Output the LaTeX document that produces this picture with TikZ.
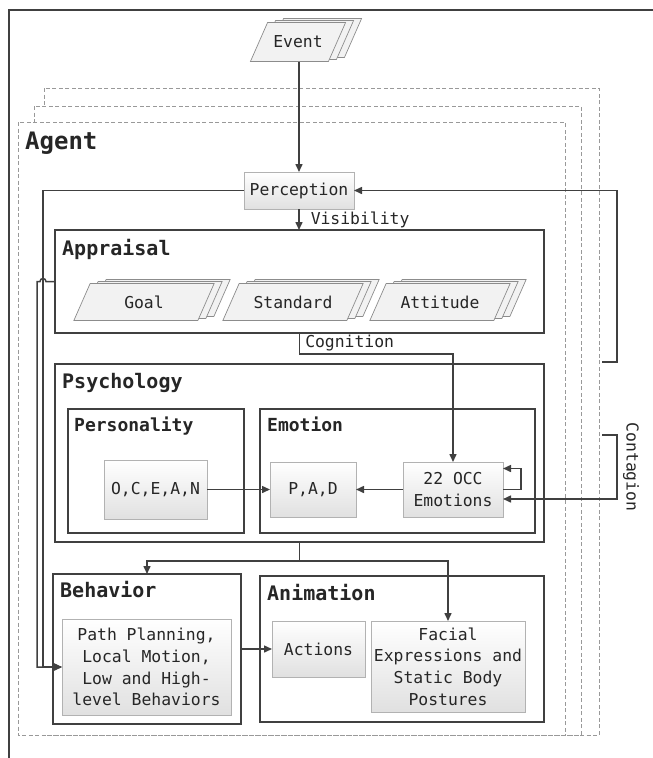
\documentclass[tikz,border=0pt]{standalone}
\usepackage{fontspec}
\setmainfont{DejaVu Sans Mono}
\usetikzlibrary{arrows.meta}

\begin{document}
\begin{tikzpicture}[x=1pt,y=-1pt,
		panel/.style={draw=black!75, line width=1.5pt, fill=white, inner sep=0pt, outer sep=0pt, anchor=north west},
		agentbox/.style={draw=black!40, dash pattern=on 4pt off 2.5pt, line width=0.8pt, fill=white},
		proc/.style={draw=black!30, line width=0.8pt, top color=white, bottom color=black!12, inner sep=0pt, outer sep=0pt, align=center, text=black!85, font=\fontsize{16.4}{21.7}\selectfont},
		slabline/.style={draw=black!45, fill=black!5, line width=0.7pt},
		slab/.style={inner sep=0pt, outer sep=0pt, text=black!85, font=\fontsize{16.4}{20}\selectfont},
		boxtitle/.style={anchor=base west, inner sep=0pt, text=black!85, font=\fontsize{20}{24}\bfseries\selectfont},
		subtitle/.style={boxtitle, font=\fontsize{18}{22}\bfseries\selectfont},
		lbl/.style={inner sep=0pt, text=black!85, font=\fontsize{16.4}{20}\selectfont},
		wire/.style={draw=black!75, line width=1.5pt},
		conn/.style={wire, -{Triangle[length=8pt,width=7pt]}}]
		\useasboundingbox (0,0) rectangle (653,758);
		\draw[agentbox] (44,88) rectangle (599,735);
		\draw[agentbox] (34,106) rectangle (581,735);
		\draw[agentbox] (18,122) rectangle (565,735);
		\draw[wire] (9,758) -- (9,10) -- (653,10);
		\node[boxtitle, font=\fontsize{24}{28}\bfseries\selectfont] (agent) at (25,149) {Agent};
		\node[panel, minimum width=489, minimum height=103] (appr) at (55,230) {};
		\node[boxtitle] at (62,255) {Appraisal};
		\foreach \cx/\cy/\w/\h in {298/42/78/39, 144/302/124/37, 293/302/124/37, 440/302/124/37}
			\foreach \d in {2,1,0}
				\filldraw[slabline, shift={(\d*8,-\d*2)}] (\cx-\w/2-\h*0.22, \cy+\h/2) -- ++(\w,0) -- ++(\h*0.44,-\h) -- ++(-\w,0) -- cycle;
		\node[slab, minimum width=78, minimum height=39] (event) at (298,42) {Event};
		\node[slab, minimum width=124, minimum height=37] (goal) at (144,302) {Goal};
		\node[slab, minimum width=124, minimum height=37] (std) at (293,302) {Standard};
		\node[slab, minimum width=124, minimum height=37] (att) at (440,302) {Attitude};
		\node[proc, minimum width=110, minimum height=37] (perc) at (299,190.5) {Perception};
		\node[panel, minimum width=489, minimum height=178] (psy) at (55,364) {};
		\node[boxtitle] at (62,388) {Psychology};
		\node[panel, minimum width=176, minimum height=124] (pers) at (68,409) {};
		\node[subtitle] at (74,431) {Personality};
		\node[panel, minimum width=275, minimum height=124] (emo) at (260,409) {};
		\node[subtitle] at (267,431) {Emotion};
		\node[proc, minimum width=103, minimum height=59] (ocean) at (155.5,489.5) {O,C,E,A,N};
		\node[proc, minimum width=86, minimum height=55] (pad) at (313,489.5) {P,A,D};
		\node[proc, minimum width=100, minimum height=55] (occ) at (453,489.5) {22 OCC\\Emotions};
		\node[panel, minimum width=188, minimum height=150] (behav) at (53,574) {};
		\node[boxtitle] at (60,597) {Behavior};
		\node[panel, minimum width=284, minimum height=146] (anim) at (260,576) {};
		\node[boxtitle] at (267,600) {Animation};
		\node[proc, minimum width=169, minimum height=96] (path) at (146.5,667) {Path Planning,\\Local Motion,\\Low and High-\\level Behaviors};
		\node[proc, minimum width=93, minimum height=56] (act) at (318.5,649) {Actions};
		\node[proc, minimum width=154, minimum height=91] (face) at (448,666.5) {Facial\\Expressions and\\Static Body\\Postures};
		\coordinate (fromagents) at (602,362);
		\coordinate (contagin) at (602,435);
		\draw[conn] (perc.north |- event.south) -- (perc.north);
		\draw[conn] (perc.south) -- node[lbl, right=11pt] {Visibility} (perc.south |- appr.north);
		\draw[conn] (perc.west) -| (43,667) -- (path.west);
		\draw[conn] (appr.west) -- (46,281.5) arc (0:-180:3) -- (37,281.5) -- (37,667) -- (path.west);
		\draw[conn] (fromagents) -- (617,362) |- (perc.east);
		\draw[conn] (appr.south) -- node[lbl, right=5pt] {Cognition} ++(0,21) -| (occ.north);
		\draw[conn] (ocean.east) -- (pad.west);
		\draw[conn] (occ.west) -- (pad.east);
		\draw[conn] (occ.east) -- ++(18,0) -- ++(0,-21) -- ++(-18,0);
		\draw[conn] (contagin) -- (617,435) |- ([yshift=-9.5pt]occ.east);
		\node[lbl, rotate=-90] (ctglbl) at (631,467) {Contagion};
		\draw[conn] (psy.south) -- ++(0,19) -| (behav.north);
		\draw[conn] (psy.south) ++(0,19) -| (face.north);
		\draw[conn] (behav.east |- act.west) -- (act.west);
	\end{tikzpicture}
\end{document}
